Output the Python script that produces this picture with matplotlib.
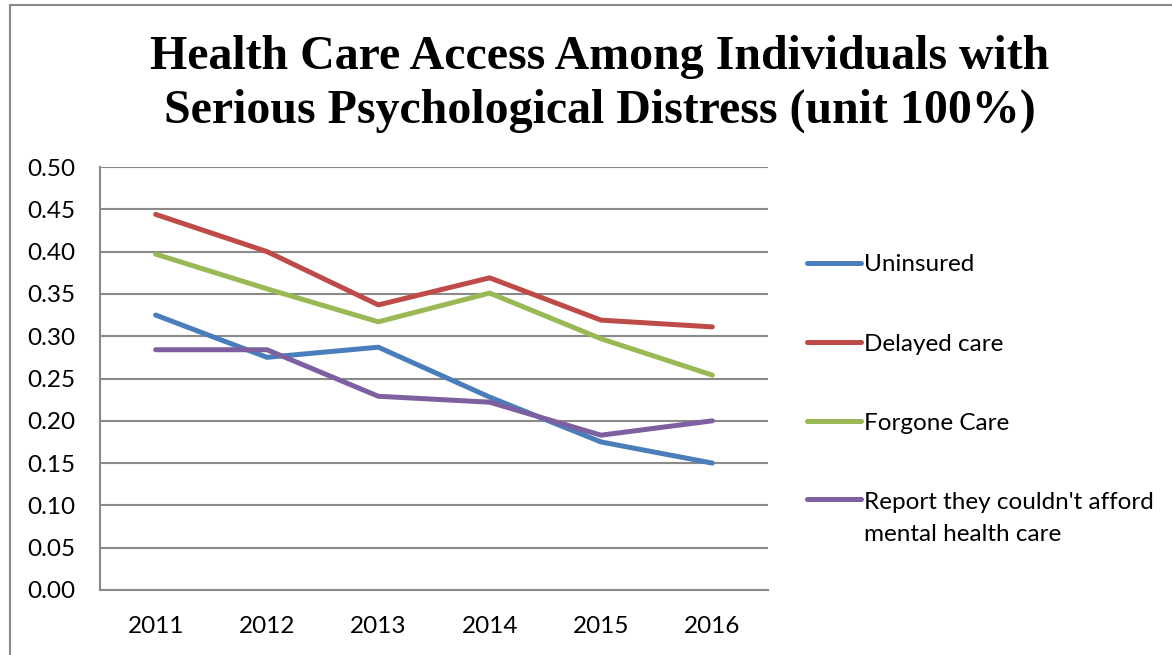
import matplotlib
matplotlib.use("Agg")
import matplotlib.pyplot as plt
from matplotlib.lines import Line2D
from matplotlib.legend_handler import HandlerLine2D

years = ["2011", "2012", "2013", "2014", "2015", "2016"]
uninsured = [0.325, 0.275, 0.287, 0.228, 0.175, 0.150]
delayed_care = [0.444, 0.400, 0.337, 0.369, 0.319, 0.311]
forgone_care = [0.397, 0.356, 0.317, 0.351, 0.297, 0.254]
cannot_afford = [0.284, 0.284, 0.229, 0.222, 0.183, 0.200]

series_names = ["Uninsured", "Delayed care", "Forgone Care",
                "Report they couldn't afford\nmental health care"]
series_colors = ["#4a7ebb", "#be4b48", "#98b954", "#7d60a0"]
y_ticks = [0.00, 0.05, 0.10, 0.15, 0.20, 0.25, 0.30, 0.35, 0.40, 0.45, 0.50]


class FirstLineHandler(HandlerLine2D):
    """Legend line that sits beside the first line of a two-line label."""

    def __init__(self, shift, **kw):
        super().__init__(**kw)
        self.shift = shift

    def create_artists(self, legend, orig_handle, xdescent, ydescent,
                       width, height, fontsize, trans):
        artists = super().create_artists(legend, orig_handle, xdescent, ydescent,
                                         width, height, fontsize, trans)
        for a in artists:
            a.set_ydata([y + self.shift for y in a.get_ydata()])
        return artists


W, H = 1172, 655
fig = plt.figure(figsize=(W / 100, H / 100), dpi=100)

# outer frame of the chart area
fig.add_artist(Line2D([10 / W, 10 / W], [0, 1 - 5 / H], transform=fig.transFigure,
                      color="#8a8a8a", lw=1.5))
fig.add_artist(Line2D([10 / W, 1], [1 - 5 / H, 1 - 5 / H], transform=fig.transFigure,
                      color="#8a8a8a", lw=1.5))

left, right, top, bottom = 100, 768, 167, 590
ax = fig.add_axes([left / W, 1 - bottom / H, (right - left) / W, (bottom - top) / H])

x = list(range(len(years)))
all_series = [uninsured, delayed_care, forgone_care, cannot_afford]
lines = []
for vals, name, col in zip(all_series, series_names, series_colors):
    ln, = ax.plot(x, vals, color=col, lw=3.6, solid_capstyle="round", label=name, zorder=3)
    lines.append(ln)

ax.set_xlim(-0.5, len(years) - 0.5)
ax.set_ylim(0, 0.5)
ax.set_yticks(y_ticks)
ax.set_yticklabels([f"{v:.2f}" for v in y_ticks])
ax.set_xticks(x)
ax.set_xticklabels(years)
ax.tick_params(axis="both", length=0, labelsize=17.5, colors="black")
ax.tick_params(axis="y", pad=18)
ax.tick_params(axis="x", pad=19)
for lab in ax.get_xticklabels() + ax.get_yticklabels():
    lab.set_fontfamily("Lato")

ax.grid(axis="y", color="#8a8a8a", lw=1.5, zorder=0)
ax.set_axisbelow(True)
for s in ["top", "right"]:
    ax.spines[s].set_visible(False)
ax.spines["left"].set_color("#8a8a8a")
ax.spines["left"].set_linewidth(1.5)
ax.spines["bottom"].set_color("#8a8a8a")
ax.spines["bottom"].set_linewidth(1.5)

leg = fig.legend(handles=lines, loc="upper left", bbox_to_anchor=(800 / W, 1 - 247 / H),
                 frameon=False, prop={"family": "Lato", "size": 17.5},
                 handlelength=2.2, handletextpad=0.15, labelspacing=2.4,
                 borderaxespad=0, borderpad=0.3,
                 handler_map={lines[3]: FirstLineHandler(shift=14.5)})
for t in leg.get_texts():
    t.set_linespacing(1.65)

fig.text(600 / W, 1 - 84 / H,
         "Health Care Access Among Individuals with\nSerious Psychological Distress (unit 100%)",
         ha="center", va="center", family="Liberation Serif", weight="bold",
         fontsize=34.5, linespacing=1.3)

fig.savefig("out.png", dpi=100)
